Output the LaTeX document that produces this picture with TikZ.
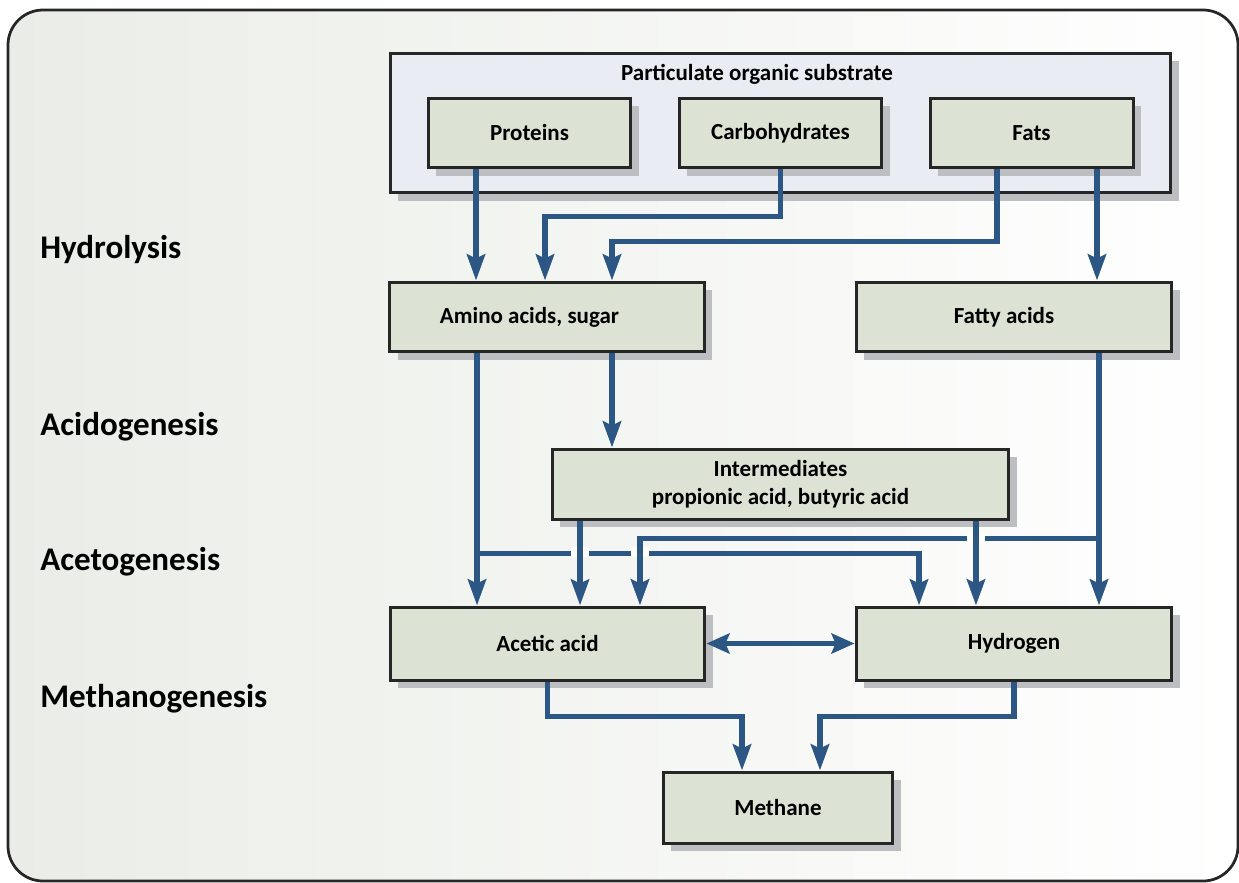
\documentclass[tikz,border=0pt]{standalone}
\usepackage{fontspec}
\setmainfont{Carlito}
\usepackage{xcolor}
\usepackage{tikz}
\usetikzlibrary{
	arrows.meta,
        shadows,
}
\definecolor{boxfill}{HTML}{DCE3D4}
\definecolor{subfill}{HTML}{E9EDF3}
\definecolor{flowblue}{HTML}{2C5784}
\definecolor{shade}{HTML}{BDBEC2}
\definecolor{edge}{HTML}{262626}
\definecolor{bgleft}{HTML}{EAEDE7}

\begin{document}
\begin{tikzpicture}[x=0.02cm, y=-0.02cm,
	box/.style={draw=edge, line width=0.06cm, fill=boxfill, inner sep=0, align=center,
		drop shadow={shadow xshift=0.16cm, shadow yshift=-0.16cm, fill=shade, opacity=1},
		font=\fontsize{13.1}{16}\selectfont\bfseries},
	stage/.style={anchor=base west, inner sep=0, font=\fontsize{18.8}{22}\selectfont\bfseries},
	flow/.style={draw=flowblue, line width=0.11cm, -{Stealth[length=0.52cm, width=0.36cm, inset=0.08cm]}},
	gap/.style={fill=white}]
\useasboundingbox (0,0) rectangle (1239,882);
% background
\draw[edge, line width=0.055cm, rounded corners=0.7cm, left color=bgleft, right color=white] (8,10) rectangle (1238,881);

% particulate substrate
\node[box, fill=subfill, minimum width=15.62cm, minimum height=2.8cm] (sub) at (780.5,123) {};
\node[inner sep=0, font=\fontsize{13.1}{16}\selectfont\bfseries] (subtitle) at (757,74) {Particulate organic substrate};
\node[box, minimum width=4.06cm, minimum height=1.4cm] (prot) at (529.5,133) {Proteins};
\node[box, minimum width=4.06cm, minimum height=1.4cm] (carb) at (780.5,133) {Carbohydrates};
\node[box, minimum width=4.06cm, minimum height=1.4cm] (fats) at (1031.5,133) {Fats};

% hydrolysis products
\node[box, minimum width=6.3cm, minimum height=1.4cm] (amino) at (547,317) {Amino acids, sugar\hspace*{0.7cm}};
\node[box, minimum width=6.32cm, minimum height=1.4cm] (fatty) at (1014,317) {Fatty acids\hspace*{0.4cm}};
% intermediates
\node[box, minimum width=9.14cm, minimum height=1.4cm] (inter) at (780.5,484) {Intermediates\\propionic acid, butyric acid};
% acetogenesis products
\node[box, minimum width=6.3cm, minimum height=1.46cm] (acetic) at (547.5,643.5) {Acetic acid};
\node[box, minimum width=6.32cm, minimum height=1.46cm] (hydro) at (1014,643.5) {Hydrogen};
% methane
\node[box, minimum width=4.6cm, minimum height=1.42cm] (meth) at (778,807.5) {Methane};

% stages
\node[stage] (hydrolysis) at (40,258) {Hydrolysis};
\node[stage] (acido) at (40,435) {Acidogenesis};
\node[stage] (aceto) at (40,570) {Acetogenesis};
\node[stage] (methano) at (40,707) {Methanogenesis};

%% arrows:
% hydrolysis
\draw[flow] ([xshift=-1.07cm]prot.south) -- ([xshift=-1.07cm]prot.south |- amino.north);
\draw[flow] (carb.south) -- ++(0,47) -| ([xshift=-0.04cm]amino.north);
\draw[flow] ([xshift=-0.69cm]fats.south) -- ++(0,72) -| ([xshift=1.3cm]amino.north);
\draw[flow] ([xshift=1.31cm]fats.south) -- ([xshift=1.31cm]fats.south |- fatty.north);
% acidogenesis
\draw[flow] ([xshift=1.3cm]amino.south) -- ([xshift=1.3cm]amino.south |- inter.north);
\draw[flow] ([xshift=-1.4cm]amino.south) -- ([xshift=-1.4cm]amino.south |- acetic.north);
\draw[flow] ([xshift=-1.4cm]amino.south) -- ++(0,200) -| ([xshift=-1.9cm]hydro.north);
\fill[gap] (631,547) rectangle (649,557);
\draw[flow] ([xshift=1.7cm]fatty.south) -- ([xshift=1.7cm]fatty.south |- hydro.north);
\draw[flow] ([xshift=1.7cm]fatty.south) -- ++(0,185) -| ([xshift=1.85cm]acetic.north);
% acetogenesis
\fill[gap] (571,547) rectangle (589,557);
\fill[gap] (967,532) rectangle (985,542);
\draw[flow] ([xshift=-4.01cm]inter.south) -- ([xshift=-4.01cm]inter.south |- acetic.north);
\draw[flow] ([xshift=3.91cm]inter.south) -- ([xshift=3.91cm]inter.south |- hydro.north);
\draw[flow, {Stealth[length=0.46cm, width=0.4cm, inset=0.08cm]}-{Stealth[length=0.46cm, width=0.4cm, inset=0.08cm]}] (acetic.east) -- (hydro.west);
% methanogenesis
\draw[flow] (acetic.south) -- ++(0,35) -| ([xshift=-0.72cm]meth.north);
\draw[flow] (hydro.south) -- ++(0,35) -| ([xshift=0.84cm]meth.north);
\end{tikzpicture}
\end{document}
